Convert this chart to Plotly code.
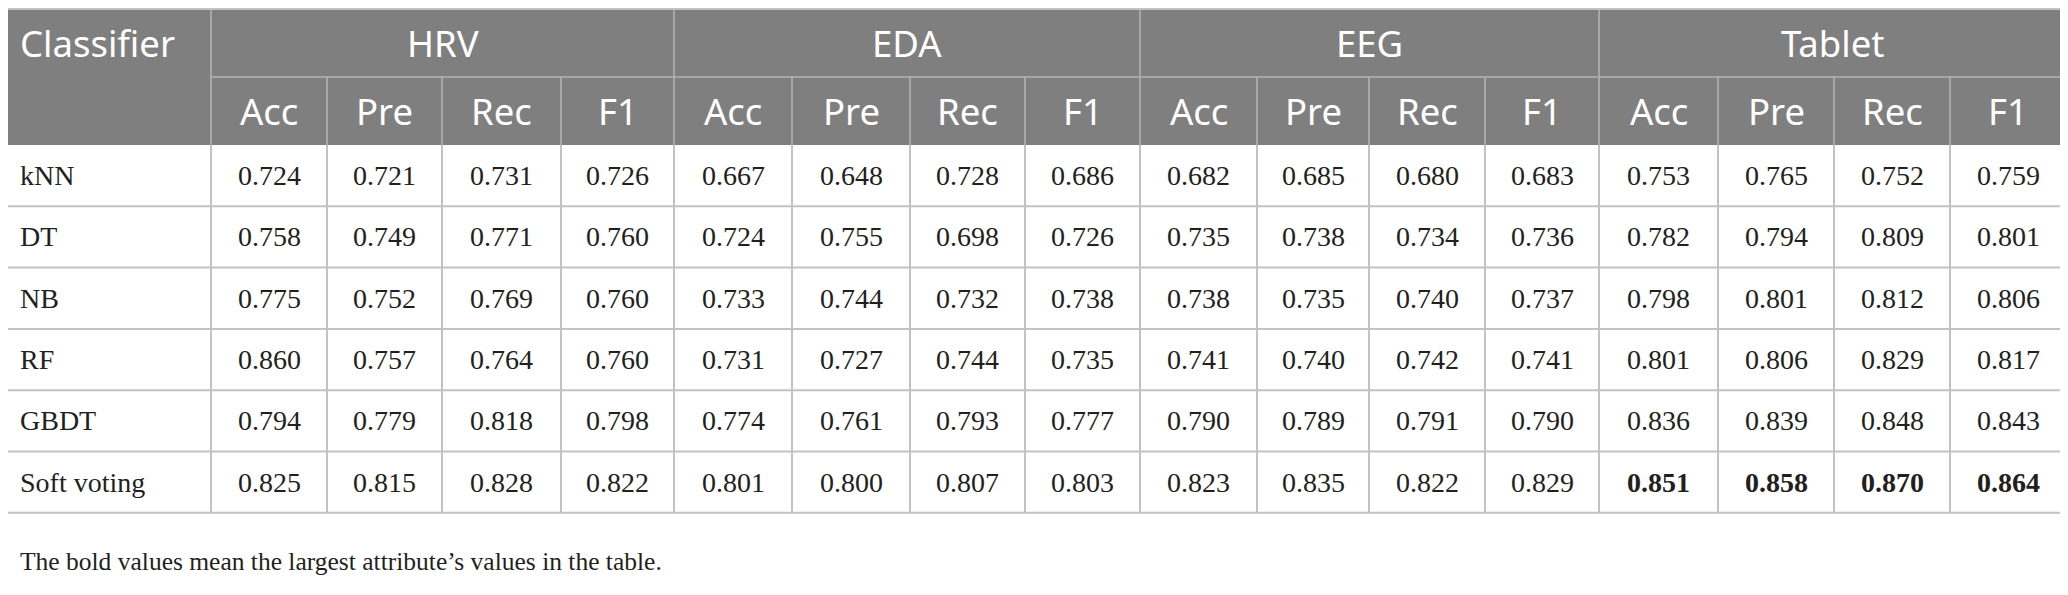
import plotly.graph_objects as go

# ---------------- data ----------------
classifiers = ["kNN", "DT", "NB", "RF", "GBDT", "Soft voting"]
groups = ["HRV", "EDA", "EEG", "Tablet"]
metrics = ["Acc", "Pre", "Rec", "F1"]

hrv = [
    [0.724, 0.721, 0.731, 0.726],
    [0.758, 0.749, 0.771, 0.760],
    [0.775, 0.752, 0.769, 0.760],
    [0.860, 0.757, 0.764, 0.760],
    [0.794, 0.779, 0.818, 0.798],
    [0.825, 0.815, 0.828, 0.822],
]
eda = [
    [0.667, 0.648, 0.728, 0.686],
    [0.724, 0.755, 0.698, 0.726],
    [0.733, 0.744, 0.732, 0.738],
    [0.731, 0.727, 0.744, 0.735],
    [0.774, 0.761, 0.793, 0.777],
    [0.801, 0.800, 0.807, 0.803],
]
eeg = [
    [0.682, 0.685, 0.680, 0.683],
    [0.735, 0.738, 0.734, 0.736],
    [0.738, 0.735, 0.740, 0.737],
    [0.741, 0.740, 0.742, 0.741],
    [0.790, 0.789, 0.791, 0.790],
    [0.823, 0.835, 0.822, 0.829],
]
tablet = [
    [0.753, 0.765, 0.752, 0.759],
    [0.782, 0.794, 0.809, 0.801],
    [0.798, 0.801, 0.812, 0.806],
    [0.801, 0.806, 0.829, 0.817],
    [0.836, 0.839, 0.848, 0.843],
    [0.851, 0.858, 0.870, 0.864],
]
# cells shown in bold: (row index, group index)
bold_cells = [(5, 3)]
footnote = "The bold values mean the largest attribute\u2019s values in the table."

# ---------------- styles / geometry ----------------
W, H = 2068, 595
OFF = 8  # page margin around the figure; axis coordinates follow window pixels
first_col_w = 211
metric_w = [116, 115, 119, 113, 118, 118, 115, 115, 117, 112, 116, 114, 119, 116, 116, 116]
top = 9
head_h = [68, 68]
row_h = 61.3
HEAD_FILL = "#7f7f7f"
HEAD_LINE = "#b4b4b4"
BODY_LINE = "#c2c2c2"
TEXT = "#231f20"
SANS = "Noto Sans"
SERIF = "Liberation Serif"
HEAD_SIZE = 36.5
BODY_SIZE = 28
NOTE_SIZE = 25.5
PAD_LEFT = 18
NOTE_Y = 561

group_data = [hrv, eda, eeg, tablet]

xs = [0, first_col_w]
for w in metric_w:
    xs.append(xs[-1] + w)
y_h1 = top + head_h[0]
y_h2 = y_h1 + head_h[1]
ys = [y_h2 + i * row_h for i in range(len(classifiers) + 1)]

shapes = []
annotations = []

shapes.append(dict(type="rect", x0=xs[0], x1=xs[-1], y0=top, y1=y_h2,
                   fillcolor=HEAD_FILL, line=dict(width=0), layer="below"))

nm = len(metrics)
for g in range(len(groups)):
    gx0 = xs[1 + g * nm]
    gx1 = xs[1 + (g + 1) * nm]
    shapes.append(dict(type="line", x0=gx0, x1=gx0, y0=top, y1=y_h2,
                       line=dict(color=HEAD_LINE, width=1.5)))
    shapes.append(dict(type="line", x0=gx0, x1=gx1, y0=y_h1, y1=y_h1,
                       line=dict(color=HEAD_LINE, width=1.5)))
    for m in range(1, nm):
        mx = xs[1 + g * nm + m]
        shapes.append(dict(type="line", x0=mx, x1=mx, y0=y_h1, y1=y_h2,
                           line=dict(color=HEAD_LINE, width=1.5)))
    annotations.append(dict(x=(gx0 + gx1) / 2, y=(top + y_h1) / 2, text=groups[g],
                            showarrow=False, xanchor="center", yanchor="middle",
                            font=dict(family=SANS, size=HEAD_SIZE, color="white")))
    for m in range(nm):
        cx0 = xs[1 + g * nm + m]
        cx1 = xs[2 + g * nm + m]
        annotations.append(dict(x=(cx0 + cx1) / 2, y=(y_h1 + y_h2) / 2, text=metrics[m],
                                showarrow=False, xanchor="center", yanchor="middle",
                                font=dict(family=SANS, size=HEAD_SIZE, color="white")))

annotations.append(dict(x=PAD_LEFT, y=(top + y_h1) / 2, text="Classifier", showarrow=False,
                        xanchor="left", yanchor="middle",
                        font=dict(family=SANS, size=HEAD_SIZE, color="white")))

for y in ys[1:]:
    shapes.append(dict(type="line", x0=xs[0], x1=xs[-1], y0=y, y1=y,
                       line=dict(color=BODY_LINE, width=2)))
for x in xs:
    shapes.append(dict(type="line", x0=x, x1=x, y0=y_h2, y1=ys[-1],
                       line=dict(color=BODY_LINE, width=2)))
shapes.append(dict(type="line", x0=xs[0], x1=xs[-1], y0=top, y1=top,
                   line=dict(color=BODY_LINE, width=2)))
shapes.append(dict(type="line", x0=xs[-1], x1=xs[-1], y0=top, y1=y_h2,
                   line=dict(color=BODY_LINE, width=2)))

for r, name in enumerate(classifiers):
    cy = (ys[r] + ys[r + 1]) / 2
    annotations.append(dict(x=PAD_LEFT, y=cy, text=name, showarrow=False,
                            xanchor="left", yanchor="middle",
                            font=dict(family=SERIF, size=BODY_SIZE, color=TEXT)))
    for g, gd in enumerate(group_data):
        for m in range(nm):
            ci = g * nm + m
            cx = (xs[1 + ci] + xs[2 + ci]) / 2
            val = f"{gd[r][m]:.3f}"
            if (r, g) in bold_cells:
                val = f"<b>{val}</b>"
            annotations.append(dict(x=cx, y=cy, text=val, showarrow=False,
                                    xanchor="center", yanchor="middle",
                                    font=dict(family=SERIF, size=BODY_SIZE, color=TEXT)))

annotations.append(dict(x=PAD_LEFT, y=NOTE_Y, text=footnote, showarrow=False,
                        xanchor="left", yanchor="middle",
                        font=dict(family=SERIF, size=NOTE_SIZE, color=TEXT)))

fig = go.Figure()
fig.update_layout(
    width=W, height=H,
    margin=dict(l=0, r=0, t=0, b=0),
    paper_bgcolor="white", plot_bgcolor="white",
    xaxis=dict(range=[OFF, W + OFF], visible=False, fixedrange=True),
    yaxis=dict(range=[H + OFF, OFF], visible=False, fixedrange=True),
    shapes=shapes, annotations=annotations, showlegend=False,
)
fig.write_html("out.html")
